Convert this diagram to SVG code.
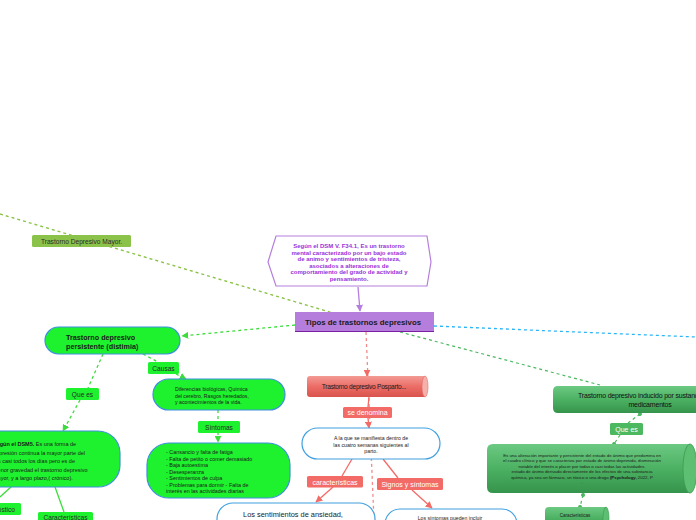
<svg xmlns="http://www.w3.org/2000/svg" width="696" height="520" viewBox="0 0 696 520">
<defs>
<style>
.t{font-family:"Liberation Sans",Arial,sans-serif;}
.gn{fill:#1ef22e;stroke:#3f8fe0;stroke-width:1.2}
.wn{fill:#fff;stroke:#3fa0e0;stroke-width:1.2}
.gl{fill:#1ef22e}
.lbl{font-family:"Liberation Sans",Arial,sans-serif;font-size:6.6px;fill:#2a2a2a}
.pl{fill:#f26b66}
.plt{font-family:"Liberation Sans",Arial,sans-serif;font-size:7px;fill:#fff}
.cg{stroke:#3ddc3d;stroke-width:1.3;stroke-dasharray:3 3;fill:none}
.cgs{stroke:#3ddc3d;stroke-width:1.3;fill:none}
.cp{stroke:#f26b66;stroke-width:1.3;fill:none}
.cpd{stroke:#f28a8a;stroke-width:1.3;stroke-dasharray:3 3;fill:none}
.cdg{stroke:#4cb860;stroke-width:1.2;stroke-dasharray:3 3;fill:none}
.sm{font-family:"Liberation Sans",Arial,sans-serif;font-size:5.2px;fill:#1a1a1a}
</style>
<marker id="ag" viewBox="0 0 10 10" refX="9" refY="5" markerWidth="7" markerHeight="7" markerUnits="userSpaceOnUse" orient="auto"><path d="M0,0L10,5L0,10z" fill="#3ddc3d"/></marker>
<marker id="ap" viewBox="0 0 10 10" refX="9" refY="5" markerWidth="7" markerHeight="7" markerUnits="userSpaceOnUse" orient="auto"><path d="M0,0L10,5L0,10z" fill="#f26b66"/></marker>
<marker id="au" viewBox="0 0 10 10" refX="9" refY="5" markerWidth="7" markerHeight="7" markerUnits="userSpaceOnUse" orient="auto"><path d="M0,0L10,5L0,10z" fill="#b57edc"/></marker>
<marker id="cd" viewBox="0 0 10 10" refX="5" refY="5" markerWidth="5" markerHeight="5" markerUnits="userSpaceOnUse" orient="auto"><circle cx="5" cy="5" r="4" fill="#4cb860"/></marker>
<linearGradient id="gp" x1="0" y1="0" x2="0" y2="1"><stop offset="0" stop-color="#f39a95"/><stop offset="0.5" stop-color="#ec6d66"/><stop offset="1" stop-color="#d9534d"/></linearGradient>
<linearGradient id="gg" x1="0" y1="0" x2="0" y2="1"><stop offset="0" stop-color="#6cc982"/><stop offset="0.5" stop-color="#4cb163"/><stop offset="1" stop-color="#35944b"/></linearGradient>
</defs>

<g id="connectors">
<line x1="0" y1="214" x2="333" y2="313" stroke="#8bc34a" stroke-width="1.4" stroke-dasharray="3 3"/>
<line x1="358" y1="287" x2="360" y2="311" stroke="#b57edc" stroke-width="1.3" marker-end="url(#au)"/>
<line class="cg" x1="295" y1="325" x2="182" y2="336" marker-end="url(#ag)"/>
<line class="cg" x1="143" y1="354" x2="158" y2="362"/>
<line class="cg" x1="176" y1="374" x2="186" y2="379" marker-end="url(#ag)"/>
<line class="cg" x1="218" y1="410" x2="218" y2="421"/>
<line class="cg" x1="218" y1="432" x2="218" y2="442" marker-end="url(#ag)"/>
<line class="cg" x1="103" y1="354" x2="88" y2="388"/>
<line class="cg" x1="80" y1="400" x2="63" y2="431" marker-end="url(#ag)"/>
<line class="cgs" x1="12" y1="486" x2="0" y2="497"/>
<line class="cgs" x1="55" y1="487" x2="64" y2="512"/>
<line class="cpd" x1="366" y1="332" x2="374" y2="520"/>
<line class="cp" x1="367" y1="370" x2="367" y2="376" marker-end="url(#ap)"/>
<line class="cp" x1="369" y1="397" x2="368" y2="407"/>
<line class="cp" x1="368" y1="418" x2="369" y2="428" marker-end="url(#ap)"/>
<line class="cp" x1="352" y1="459" x2="342" y2="476"/>
<line class="cp" x1="333" y1="487" x2="316" y2="502" marker-end="url(#ap)"/>
<line class="cp" x1="383" y1="459" x2="398" y2="478"/>
<line class="cp" x1="412" y1="490" x2="432" y2="508" marker-end="url(#ap)"/>
<line x1="434" y1="326" x2="696" y2="337" stroke="#29b6f6" stroke-width="1.3" stroke-dasharray="3 3"/>
<line x1="400" y1="332" x2="600" y2="385" stroke="#4cb860" stroke-width="1.2" stroke-dasharray="3 3"/>
<line class="cdg" x1="640" y1="414" x2="628" y2="423" marker-start="url(#cd)"/>
<line class="cdg" x1="620" y1="435" x2="614" y2="444" marker-end="url(#cd)"/>
<line class="cdg" x1="583" y1="495" x2="580" y2="507" marker-start="url(#cd)" marker-end="url(#cd)"/>
</g>

<g id="n-mayor">
<rect x="32" y="235" width="99" height="12" rx="1.5" fill="#8bc34a"/>
<text class="lbl" x="81.5" y="243.5" text-anchor="middle">Trastorno Depresivo Mayor.</text>
</g>

<g id="n-dsm">
<polygon points="268,262 276,236 427,236 431,262 427,286 276,286" fill="#fff" stroke="#b57edc" stroke-width="1.2"/>
<g class="t" font-size="6" font-weight="bold" fill="#9b30d9" text-anchor="middle">
<text x="349" y="248">Según el DSM V. F34.1,  Es un trastorno</text>
<text x="349" y="254.5">mental   caracterizado por un bajo estado</text>
<text x="349" y="261">de animo y sentimientos de tristeza,</text>
<text x="349" y="267.5">asociados a alteraciones de</text>
<text x="349" y="274">comportamiento del grado de actividad y</text>
<text x="349" y="280.5">pensamiento.</text>
</g>
</g>

<g id="n-tipos">
<rect x="295" y="312" width="139" height="20" fill="#b57edc"/>
<line x1="295" y1="331.5" x2="434" y2="331.5" stroke="#7b1fa2" stroke-width="1.2"/>
<text class="t" x="363" y="325" text-anchor="middle" font-size="7.8" font-weight="bold" fill="#1a1a1a">Tipos de trastornos depresivos</text>
</g>

<g id="n-persistente">
<rect class="gn" x="45" y="327" width="135" height="27" rx="13.5"/>
<text class="t" x="66" y="340" font-size="7.2" font-weight="bold" fill="#1a1a1a">Trastorno depresivo</text>
<text class="t" x="66" y="349" font-size="7.2" font-weight="bold" fill="#1a1a1a">persistente (distimia)</text>
</g>

<g id="n-causas">
<rect class="gl" x="148" y="362" width="31" height="12" rx="1.5"/>
<text class="lbl" x="163.5" y="370.5" text-anchor="middle">Causas</text>
</g>

<g id="n-diferencias">
<rect class="gn" x="153" y="379" width="132" height="31" rx="15.5"/>
<text class="sm" x="175" y="391">Diferencias biológicas, Química</text>
<text class="sm" x="175" y="397.5">del cerebro, Rasgos heredados,</text>
<text class="sm" x="175" y="404">y acontecimientos de la vida.</text>
</g>

<g id="n-sintomas-lbl">
<rect class="gl" x="198" y="421" width="42" height="12" rx="1.5"/>
<text class="lbl" x="219" y="429.5" text-anchor="middle">Síntomas</text>
</g>

<g id="n-sintomas">
<rect class="gn" x="147" y="443" width="143" height="55" rx="22"/>
<g class="sm" style="font-size:5.4px">
<text x="166" y="454">- Cansancio y falta de fatiga</text>
<text x="166" y="460.5">- Falta de petito o comer demasiado</text>
<text x="166" y="467">- Baja autoestima</text>
<text x="166" y="473.5">- Desesperanza</text>
<text x="166" y="480">- Sentimientos de culpa</text>
<text x="166" y="487">- Problemas para dormir - Falta de</text>
<text x="166" y="493">interés en las actividades diarias</text>
</g>
</g>

<g id="n-quees">
<rect class="gl" x="66" y="388" width="33" height="12" rx="1.5"/>
<text class="lbl" x="82.5" y="396.5" text-anchor="middle">Que es</text>
</g>

<g id="n-dsm5">
<rect class="gn" x="-60" y="431" width="180" height="56" rx="22"/>
<g class="sm" style="font-size:5.5px">
<text x="-7" y="446"><tspan font-weight="bold">Según el DSM5.</tspan> Es una forma de</text>
<text x="-7" y="454.5">depresión continua la mayor parte del</text>
<text x="-7" y="463">día casi todos los días pero es de</text>
<text x="-7" y="471.5">menor gravedad el trastorno depresivo</text>
<text x="-7" y="480">mayor,  y a largo plazo,( crónico).</text>
</g>
</g>

<g id="n-diagnostico">
<rect class="gl" x="-20" y="503" width="41" height="12" rx="1.5"/>
<text class="lbl" x="15" y="511.5" text-anchor="end">Diagnóstico</text>
</g>

<g id="n-caracteristicas-l">
<rect class="gl" x="38" y="512" width="55" height="12" rx="1.5"/>
<text class="lbl" x="65.5" y="520" text-anchor="middle">Características</text>
</g>

<g id="n-posparto">
<path d="M310,376 H425 V397 H310 Q307,397 307,394 V379 Q307,376 310,376 Z" fill="url(#gp)"/>
<ellipse cx="425" cy="386.5" rx="3" ry="10.5" fill="#f6b0ac" stroke="#e06a64" stroke-width="0.6"/>
<text class="t" x="364" y="388.5" text-anchor="middle" font-size="6.6" letter-spacing="-0.25" fill="#1a1a1a">Trastorno depresivo Posparto...</text>
</g>

<g id="n-sedenomina">
<rect class="pl" x="343" y="407" width="49" height="11" rx="1.5"/>
<text class="plt" x="367.5" y="415" text-anchor="middle">se denomina</text>
</g>

<g id="n-alaque">
<rect class="wn" x="302" y="428" width="138" height="31" rx="15.5"/>
<text class="sm" x="371" y="440" text-anchor="middle">A la que se manifiesta dentro de</text>
<text class="sm" x="371" y="446.5" text-anchor="middle">las cuatro semanas siguientes al</text>
<text class="sm" x="371" y="453" text-anchor="middle">parto.</text>
</g>

<g id="n-caract-p">
<rect class="pl" x="307" y="476" width="56" height="11.5" rx="1.5"/>
<text class="plt" x="335" y="484.5" text-anchor="middle">características</text>
</g>

<g id="n-signos">
<rect class="pl" x="377" y="478" width="66" height="12" rx="1.5"/>
<text class="plt" x="410" y="486.5" text-anchor="middle">Signos y síntomas</text>
</g>

<g id="n-ansiedad">
<rect class="wn" x="217" y="503" width="158" height="40" rx="16"/>
<text class="t" x="293" y="516.5" text-anchor="middle" font-size="7.4" fill="#1a1a1a">Los sentimientos de ansiedad,</text>
</g>

<g id="n-incluir">
<rect class="wn" x="385" y="509" width="132" height="35" rx="15"/>
<text class="sm" x="450" y="520" text-anchor="middle">Los síntomas pueden incluir</text>
</g>

<g id="n-inducido">
<path d="M558,386 H700 V413 H558 Q553,413 553,408 V391 Q553,386 558,386 Z" fill="url(#gg)"/>
<text class="t" x="578" y="398" font-size="7" letter-spacing="-0.2" fill="#111">Trastorno depresivo inducido por sustancias/</text>
<text class="t" x="650" y="406.5" text-anchor="middle" font-size="7" letter-spacing="-0.2" fill="#111">medicamentos</text>
</g>

<g id="n-quees-r">
<rect x="610" y="423" width="33" height="12" rx="1.5" fill="#4cb860"/>
<text class="t" x="626.5" y="431.5" text-anchor="middle" font-size="7" fill="#fff">Que es</text>
</g>

<g id="n-alteracion">
<path d="M493,444 H690 V493 H493 Q487,493 487,487 V450 Q487,444 493,444 Z" fill="url(#gg)"/>
<ellipse cx="690" cy="468.5" rx="7" ry="24.5" fill="#5cbf72" stroke="#3a9a50" stroke-width="0.8"/>
<g class="t" font-size="4.35" fill="#1a1a1a" text-anchor="middle">
<text x="582" y="456.5">Es una alteración importante y persistente del estado de ánimo que predomina en</text>
<text x="582" y="462">el cuadro clínico y que se caracteriza por estado de ánimo deprimido, disminución</text>
<text x="582" y="467.5">notable del interés o placer por todas o casi todas las actividades.</text>
<text x="582" y="473">estado de ánimo derivado directamente de los efectos de una substancia</text>
<text x="582" y="478.5">química, ya sea un fármaco, un tóxico o una droga <tspan font-weight="bold">(Psychology,</tspan> 2022, P</text>
<text x="582" y="484">.</text>
</g>
</g>

<g id="n-caracteristicas-r">
<path d="M549,507 H606 V530 H549 Q545,530 545,526 V511 Q545,507 549,507 Z" fill="url(#gg)"/>
<ellipse cx="606" cy="518.5" rx="3" ry="11.5" fill="#5cbf72" stroke="#3a9a50" stroke-width="0.6"/>
<text class="t" x="575" y="516.5" text-anchor="middle" font-size="4.6" fill="#1a1a1a">Características</text>
</g>
</svg>
